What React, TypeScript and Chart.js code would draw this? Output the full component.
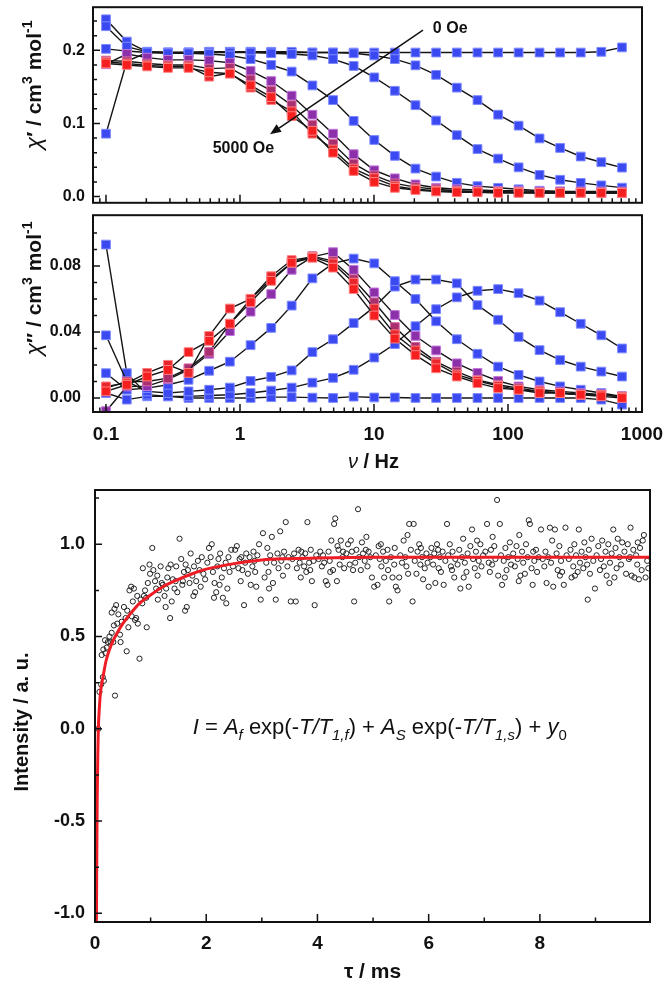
import React, { useEffect, useRef } from 'react';
import { Chart, registerables } from 'chart.js';

Chart.register(...registerables);

const FONT = '"Liberation Sans", Arial, sans-serif';
const INK = '#111111';

// ---------------- AC susceptibility data ----------------
const freqHz = [0.1, 0.143, 0.203, 0.29, 0.413, 0.589, 0.84, 1.2, 1.71, 2.43, 3.47, 4.95, 7.05, 10.05, 14.3, 20.4, 29.1, 41.5, 59.2, 84.4, 120, 172, 245, 349, 497, 709];

// chi' (cm3 mol-1), series 0 = 0 Oe ... series 7 = 5000 Oe
const chiIn0 = [0.202, 0.199, 0.197, 0.197, 0.197, 0.198, 0.198, 0.198, 0.197, 0.197, 0.197, 0.197, 0.197, 0.197, 0.197, 0.197, 0.197, 0.197, 0.197, 0.197, 0.197, 0.197, 0.197, 0.197, 0.198, 0.204];
const chiIn1 = [0.2425, 0.212, 0.198, 0.197, 0.197, 0.198, 0.198, 0.198, 0.198, 0.198, 0.197, 0.197, 0.196, 0.193, 0.188, 0.1795, 0.1665, 0.149, 0.132, 0.112, 0.097, 0.0795, 0.0665, 0.0548, 0.047, 0.0396];
const chiIn2 = [0.233, 0.205, 0.198, 0.197, 0.197, 0.197, 0.197, 0.197, 0.196, 0.195, 0.193, 0.188, 0.1786, 0.163, 0.1447, 0.125, 0.104, 0.084, 0.065, 0.052, 0.04, 0.0296, 0.023, 0.0187, 0.0153, 0.0122];
const chiIn3 = [0.086, 0.185, 0.197, 0.196, 0.196, 0.195, 0.193, 0.188, 0.18, 0.171, 0.152, 0.132, 0.1035, 0.0774, 0.0557, 0.0383, 0.0274, 0.0188, 0.0143, 0.012, 0.01, 0.008, 0.007, 0.006, 0.0055, 0.005];
const chiIn4 = [0.181, 0.195, 0.19, 0.187, 0.187, 0.186, 0.183, 0.172, 0.158, 0.138, 0.112, 0.086, 0.058, 0.036, 0.025, 0.0166, 0.012, 0.01, 0.009, 0.008, 0.008, 0.007, 0.007, 0.007, 0.007, 0.007];
const chiIn5 = [0.186, 0.185, 0.182, 0.18, 0.18, 0.175, 0.176, 0.16, 0.145, 0.125, 0.098, 0.072, 0.045, 0.029, 0.018, 0.013, 0.01, 0.008, 0.007, 0.007, 0.006, 0.006, 0.006, 0.006, 0.006, 0.006];
const chiIn6 = [0.184, 0.182, 0.1795, 0.178, 0.178, 0.164, 0.169, 0.149, 0.132, 0.1166, 0.086, 0.0644, 0.0383, 0.0253, 0.0143, 0.01, 0.008, 0.007, 0.006, 0.006, 0.006, 0.005, 0.005, 0.005, 0.005, 0.005];
const chiIn7 = [0.182, 0.18, 0.178, 0.176, 0.176, 0.17, 0.168, 0.152, 0.136, 0.11, 0.09, 0.06, 0.035, 0.02, 0.012, 0.009, 0.007, 0.006, 0.006, 0.005, 0.005, 0.005, 0.005, 0.005, 0.005, 0.005];

// chi'' (cm3 mol-1)
const chiOut0 = [0.003, -0.001, 0.001, 0.001, 0.0, 0.0, 0.0, 0.0, 0.0005, 0.0005, 0.0002, 0.0, 0.0008, 0.0003, 0.0003, 0.0, 0.0, 0.0, 0.0, 0.0, 0.0, 0.0, 0.0, 0.0, -0.001, -0.004];
const chiOut1 = [0.093, 0.015, 0.002, 0.001, 0.001, 0.0015, 0.002, 0.003, 0.0045, 0.0063, 0.0093, 0.0122, 0.0171, 0.0245, 0.0327, 0.0435, 0.0538, 0.061, 0.065, 0.066, 0.0635, 0.059, 0.052, 0.045, 0.038, 0.03];
const chiOut2 = [0.038, 0.01, 0.004, 0.003, 0.004, 0.005, 0.0063, 0.0103, 0.0128, 0.0167, 0.0278, 0.0356, 0.0454, 0.0552, 0.0675, 0.0718, 0.0718, 0.0695, 0.0563, 0.0474, 0.037, 0.029, 0.023, 0.019, 0.016, 0.013];
const chiOut3 = [0.015, 0.005, 0.006, 0.008, 0.011, 0.0165, 0.022, 0.032, 0.0425, 0.056, 0.0725, 0.0816, 0.0845, 0.0816, 0.0708, 0.06, 0.0465, 0.0356, 0.0268, 0.019, 0.014, 0.01, 0.007, 0.005, 0.003, 0.001];
const chiOut4 = [-0.008, 0.007, 0.0072, 0.0113, 0.017, 0.0268, 0.0405, 0.0523, 0.063, 0.0777, 0.0855, 0.0884, 0.0777, 0.064, 0.0503, 0.0376, 0.0288, 0.021, 0.0152, 0.0103, 0.007, 0.005, 0.004, 0.003, 0.002, 0.001];
const chiOut5 = [0.006, 0.01, 0.01, 0.012, 0.018, 0.028, 0.045, 0.06, 0.072, 0.082, 0.086, 0.083, 0.072, 0.058, 0.043, 0.031, 0.022, 0.016, 0.011, 0.008, 0.006, 0.004, 0.003, 0.002, 0.002, 0.001];
const chiOut6 = [0.007, 0.009, 0.0152, 0.0201, 0.0152, 0.0376, 0.0542, 0.0601, 0.0738, 0.0836, 0.0855, 0.0816, 0.0699, 0.0542, 0.0386, 0.0288, 0.021, 0.0142, 0.0103, 0.0073, 0.005, 0.004, 0.003, 0.002, 0.002, 0.0005];
const chiOut7 = [0.004, 0.008, 0.013, 0.017, 0.0278, 0.0346, 0.045, 0.058, 0.071, 0.082, 0.085, 0.079, 0.066, 0.05, 0.036, 0.026, 0.018, 0.013, 0.009, 0.006, 0.005, 0.003, 0.003, 0.002, 0.001, 0.0];

const seriesFill = ['#3a4af0', '#3a4af0', '#3a4af0', '#3a4af0', '#8b30a8', '#a8306e', '#e8262c', '#f51f1f'];
const seriesEdge = ['#7f8aff', '#7f8aff', '#7f8aff', '#7f8aff', '#c477dc', '#d86aa4', '#ff7f7f', '#ff8080'];

// tick values
const chiInTicks = [0, 0.1, 0.2];
const chiInMinor = [0.02, 0.04, 0.06, 0.08, 0.12, 0.14, 0.16, 0.18, 0.22, 0.24];
const chiOutTicks = [0, 0.04, 0.08];
const chiOutMinor = [0.01, 0.02, 0.03, 0.05, 0.06, 0.07, 0.09, 0.1];
const freqTicks = [0.1, 1, 10, 100, 1000];
const freqMinorMultipliers = [2, 3, 4, 5, 6, 7, 8, 9];

// field arrow annotation (data coordinates)
const fieldLabelStart = { text: '0 Oe', f: 27.5, chi: 0.2295 };
const fieldLabelEnd = { text: '5000 Oe', f: 1.06, chi: 0.066 };
const arrowFrom = { f: 23.2, chi: 0.2278 };
const arrowTo = { f: 1.675, chi: 0.0853 };

// ---------------- Relaxation decay data ----------------
const decayPoints: [number, number][] = [
  [0.06, 0.0], [0.08, 0.2], [0.11, 0.24], [0.14, 0.28], [0.16, 0.26], [0.36, 0.18], [0.12, 0.4], [0.15, 0.43], [0.19, 0.41], [0.21, 0.44], [0.18, 0.48], [0.23, 0.47], [0.26, 0.5], [0.28, 0.47], [0.3, 0.52], [0.33, 0.47], [0.34, 0.56], [0.3, 0.63], [0.35, 0.65], [0.38, 0.67], [0.42, 0.62], [0.4, 0.57], [0.45, 0.51], [0.46, 0.47], [0.48, 0.58],
  [0.52, 0.66], [0.55, 0.6], [0.57, 0.42], [0.6, 0.55], [0.62, 0.75], [0.65, 0.77], [0.66, 0.61], [0.7, 0.76], [0.72, 0.59], [0.74, 0.6], [0.77, 0.57], [0.8, 0.38], [0.82, 0.7], [0.85, 0.68], [0.88, 0.72], [0.9, 0.75], [0.93, 0.55], [0.95, 0.79], [0.98, 0.89], [0.86, 0.87], [0.99, 0.84], [0.76, 0.72], [0.68, 0.69], [0.92, 0.71], [0.58, 0.64],
  [1.03, 0.98], [1.05, 0.86], [1.08, 0.8], [1.1, 0.76], [1.12, 0.83], [1.15, 0.75], [1.18, 0.88], [1.2, 0.79], [1.22, 0.78], [1.25, 0.72], [1.27, 0.66], [1.3, 0.82], [1.32, 0.87], [1.35, 0.6], [1.38, 0.69], [1.4, 0.81], [1.43, 0.76], [1.45, 0.8], [1.48, 0.74], [1.28, 0.76], [1.13, 0.7], [1.36, 0.89], [1.46, 0.88],
  [1.52, 1.03], [1.55, 0.92], [1.57, 0.78], [1.6, 0.85], [1.62, 0.64], [1.65, 0.66], [1.67, 0.86], [1.7, 0.79], [1.72, 0.95], [1.75, 0.83], [1.78, 0.88], [1.8, 0.74], [1.82, 0.8], [1.85, 0.91], [1.88, 0.86], [1.9, 0.77], [1.92, 0.93], [1.95, 0.84], [1.98, 0.81], [1.63, 0.89], [1.77, 0.72], [1.58, 0.8],
  [2.02, 0.9], [2.05, 0.98], [2.08, 0.93], [2.1, 1.0], [2.12, 0.85], [2.15, 0.79], [2.18, 0.74], [2.2, 0.88], [2.22, 0.92], [2.25, 0.95], [2.28, 0.82], [2.3, 0.71], [2.32, 0.87], [2.35, 0.9], [2.38, 0.76], [2.4, 0.93], [2.42, 0.85], [2.45, 0.97], [2.48, 0.88], [2.24, 0.78], [2.36, 0.68], [2.14, 0.71],
  [2.52, 0.97], [2.55, 0.99], [2.58, 0.87], [2.6, 0.92], [2.62, 0.8], [2.65, 0.86], [2.68, 0.67], [2.7, 0.9], [2.72, 0.95], [2.75, 0.84], [2.78, 0.93], [2.8, 0.78], [2.83, 0.88], [2.85, 0.96], [2.88, 0.85], [2.9, 0.77], [2.92, 0.94], [2.95, 1.0], [2.98, 0.7], [2.63, 0.93], [2.87, 0.91],
  [3.02, 1.06], [3.05, 0.82], [3.08, 0.9], [3.1, 0.98], [3.12, 0.85], [3.15, 0.94], [3.18, 1.04], [3.2, 0.79], [3.22, 0.9], [3.25, 0.7], [3.28, 0.95], [3.3, 0.87], [3.33, 1.07], [3.35, 0.91], [3.38, 0.83], [3.4, 0.96], [3.43, 1.12], [3.46, 0.88], [3.48, 0.93], [3.13, 0.76], [3.37, 0.93],
  [3.52, 0.69], [3.55, 0.92], [3.58, 0.95], [3.61, 0.69], [3.63, 0.87], [3.66, 0.97], [3.68, 0.9], [3.7, 0.82], [3.73, 0.93], [3.76, 0.88], [3.78, 0.95], [3.8, 0.85], [3.82, 1.12], [3.85, 0.9], [3.88, 0.97], [3.9, 0.8], [3.93, 0.91], [3.95, 0.67], [3.98, 0.94], [3.71, 0.96], [3.87, 0.86],
  [4.02, 0.92], [4.05, 0.96], [4.08, 0.88], [4.1, 0.94], [4.12, 0.9], [4.15, 0.8], [4.18, 0.78], [4.2, 0.96], [4.22, 0.91], [4.25, 1.02], [4.28, 0.86], [4.3, 1.11], [4.32, 1.14], [4.35, 0.8], [4.38, 0.97], [4.4, 0.89], [4.42, 1.02], [4.45, 0.93], [4.48, 0.87], [4.23, 0.85], [4.36, 0.99], [4.46, 0.96],
  [4.52, 0.95], [4.55, 1.0], [4.58, 0.89], [4.6, 1.02], [4.62, 0.96], [4.66, 0.69], [4.68, 0.9], [4.7, 0.97], [4.73, 1.19], [4.75, 0.93], [4.78, 0.86], [4.8, 1.01], [4.82, 0.95], [4.85, 0.91], [4.88, 1.04], [4.9, 0.88], [4.92, 0.96], [4.95, 0.93], [4.98, 0.82], [4.64, 0.86], [4.87, 0.97],
  [5.02, 0.77], [5.05, 0.94], [5.08, 0.78], [5.1, 0.99], [5.12, 0.92], [5.15, 0.88], [5.18, 0.96], [5.2, 0.82], [5.23, 0.91], [5.26, 0.97], [5.29, 0.69], [5.32, 0.93], [5.35, 0.82], [5.38, 0.89], [5.41, 0.77], [5.44, 0.75], [5.47, 0.82], [5.49, 0.94], [5.14, 1.0], [5.27, 0.86], [5.39, 0.98],
  [5.52, 0.9], [5.55, 1.02], [5.58, 0.93], [5.6, 0.88], [5.62, 1.05], [5.65, 1.11], [5.68, 0.97], [5.71, 0.69], [5.73, 1.11], [5.75, 0.91], [5.78, 0.84], [5.8, 0.96], [5.83, 1.0], [5.85, 0.89], [5.88, 0.93], [5.9, 0.81], [5.93, 0.87], [5.96, 0.95], [5.98, 0.9], [5.63, 0.84], [5.86, 0.98],
  [6.0, 0.77], [6.03, 0.93], [6.05, 0.98], [6.08, 0.89], [6.1, 0.95], [6.12, 0.79], [6.15, 1.0], [6.18, 0.87], [6.2, 0.93], [6.22, 0.85], [6.25, 0.96], [6.27, 0.78], [6.3, 0.91], [6.33, 1.11], [6.35, 0.94], [6.38, 1.0], [6.4, 0.88], [6.43, 0.96], [6.46, 0.82], [6.48, 0.92], [6.17, 0.97], [6.42, 0.86],
  [6.52, 0.89], [6.55, 0.97], [6.57, 0.76], [6.6, 0.93], [6.62, 1.03], [6.65, 0.9], [6.68, 0.85], [6.7, 0.95], [6.72, 0.77], [6.75, 0.99], [6.78, 1.08], [6.8, 0.92], [6.83, 0.87], [6.85, 0.96], [6.88, 0.83], [6.9, 0.91], [6.93, 1.0], [6.95, 0.88], [6.98, 0.94], [6.63, 0.82], [6.87, 1.02],
  [7.02, 0.96], [7.05, 1.11], [7.08, 0.9], [7.1, 0.85], [7.12, 0.97], [7.14, 0.89], [7.18, 0.99], [7.2, 0.92], [7.23, 1.24], [7.25, 0.83], [7.28, 1.11], [7.3, 0.94], [7.32, 0.78], [7.35, 0.91], [7.38, 0.98], [7.4, 0.86], [7.43, 0.93], [7.46, 1.01], [7.48, 0.89], [7.15, 1.04], [7.37, 0.82],
  [7.52, 0.95], [7.55, 0.88], [7.58, 0.99], [7.6, 0.92], [7.62, 0.8], [7.65, 0.83], [7.68, 0.96], [7.7, 0.9], [7.73, 0.84], [7.75, 1.0], [7.78, 0.93], [7.8, 1.13], [7.82, 1.11], [7.85, 0.87], [7.88, 0.96], [7.9, 0.91], [7.93, 0.97], [7.95, 0.85], [7.98, 0.93], [7.63, 1.05], [7.87, 0.78],
  [8.02, 1.08], [8.05, 0.92], [8.08, 0.88], [8.1, 0.96], [8.12, 0.79], [8.15, 0.93], [8.18, 1.09], [8.2, 0.9], [8.24, 0.77], [8.27, 1.08], [8.3, 0.95], [8.32, 0.86], [8.35, 0.99], [8.38, 0.91], [8.4, 0.85], [8.43, 0.78], [8.46, 1.09], [8.48, 0.94], [8.22, 1.02], [8.36, 0.83],
  [8.52, 0.92], [8.55, 0.97], [8.57, 0.82], [8.6, 0.88], [8.62, 1.0], [8.65, 0.94], [8.68, 0.85], [8.7, 1.08], [8.72, 0.9], [8.75, 0.96], [8.78, 0.87], [8.8, 1.01], [8.82, 0.93], [8.85, 0.89], [8.86, 0.7], [8.88, 0.97], [8.9, 0.84], [8.93, 1.03], [8.96, 0.91], [8.99, 0.76], [8.63, 0.83],
  [9.02, 0.94], [9.05, 0.99], [9.08, 0.86], [9.1, 0.92], [9.12, 1.02], [9.15, 0.88], [9.18, 0.96], [9.2, 0.83], [9.23, 1.0], [9.26, 0.9], [9.29, 0.95], [9.32, 1.08], [9.34, 0.82], [9.36, 0.98], [9.38, 0.87], [9.4, 1.03], [9.43, 0.93], [9.46, 0.89], [9.48, 1.01], [9.25, 0.79],
  [9.52, 0.96], [9.55, 0.84], [9.58, 1.0], [9.6, 0.92], [9.63, 1.09], [9.65, 0.83], [9.68, 0.97], [9.7, 0.82], [9.73, 0.94], [9.75, 0.89], [9.78, 0.81], [9.8, 0.98], [9.83, 0.86], [9.85, 1.02], [9.87, 1.05], [9.9, 0.82], [9.93, 0.91], [9.95, 0.87], [9.62, 0.93], [9.76, 1.01],
];

// fitted curve
const fitTauMs = [0.025, 0.03, 0.035, 0.04, 0.05, 0.06, 0.08, 0.1, 0.15, 0.2, 0.3, 0.4, 0.5, 0.6, 0.8, 1.0, 1.25, 1.5, 1.75, 2.0, 2.5, 3.0, 3.5, 4.0, 5.0, 6.0, 8.0, 9.98];
const fitIntensity = [-1.06, -0.8, -0.55, -0.37, -0.15, 0.0, 0.12, 0.2, 0.29, 0.37, 0.46, 0.52, 0.57, 0.61, 0.68, 0.725, 0.775, 0.81, 0.84, 0.865, 0.895, 0.915, 0.922, 0.926, 0.93, 0.93, 0.93, 0.93];

const intensityTicks = [-1, -0.5, 0, 0.5, 1];
const intensityMinor = [-0.75, -0.25, 0.25, 0.75, 1.25];
const tauTicks = [0, 2, 4, 6, 8];
const tauMinor = [1, 3, 5, 7, 9];
const formulaAnchor = { tau: 5.12, intensity: -0.03 };

// ---------------- text helpers ----------------
type Seg = { t: string; it?: boolean; b?: boolean; s: number; dy?: number };

function fontOf(g: Seg) {
  return `${g.it ? 'italic ' : ''}${g.b ? 'bold ' : ''}${g.s}px ${FONT}`;
}

function drawRich(ctx: CanvasRenderingContext2D, segs: Seg[], x: number, y: number, rotated: boolean) {
  ctx.save();
  ctx.translate(x, y);
  if (rotated) ctx.rotate(-Math.PI / 2);
  let w = 0;
  for (const g of segs) { ctx.font = fontOf(g); w += ctx.measureText(g.t).width; }
  let cx = -w / 2;
  ctx.fillStyle = INK;
  ctx.textAlign = 'left';
  ctx.textBaseline = 'alphabetic';
  for (const g of segs) {
    ctx.font = fontOf(g);
    ctx.fillText(g.t, cx, g.dy || 0);
    cx += ctx.measureText(g.t).width;
  }
  ctx.restore();
}

const chiInTitle: Seg[] = [
  { t: 'χ', it: true, s: 23 }, { t: '′ / cm', b: true, s: 21 }, { t: '3', b: true, s: 14, dy: -9 },
  { t: ' mol', b: true, s: 21 }, { t: '-1', b: true, s: 14, dy: -9 },
];
const chiOutTitle: Seg[] = [
  { t: 'χ', it: true, s: 23 }, { t: '″ / cm', b: true, s: 21 }, { t: '3', b: true, s: 14, dy: -9 },
  { t: ' mol', b: true, s: 21 }, { t: '-1', b: true, s: 14, dy: -9 },
];
const freqTitle: Seg[] = [{ t: 'ν', it: true, s: 20 }, { t: ' / Hz', b: true, s: 20 }];
const tauTitle: Seg[] = [{ t: 'τ / ms', b: true, s: 21 }];
const intensityTitle: Seg[] = [{ t: 'Intensity / a. u.', b: true, s: 20 }];
const formulaSegs: Seg[] = [
  { t: 'I', it: true, s: 22 }, { t: ' = ', s: 22 }, { t: 'A', it: true, s: 22 }, { t: 'f', it: true, s: 15, dy: 6 },
  { t: ' exp(-', s: 22 }, { t: 'T/T', it: true, s: 22 }, { t: '1,f', it: true, s: 15, dy: 6 },
  { t: ') + ', s: 22 }, { t: 'A', it: true, s: 22 }, { t: 'S', it: true, s: 15, dy: 6 },
  { t: ' exp(-', s: 22 }, { t: 'T/T', it: true, s: 22 }, { t: '1,s', it: true, s: 15, dy: 6 },
  { t: ') + ', s: 22 }, { t: 'y', it: true, s: 22 }, { t: '0', s: 15, dy: 6 },
];

// ---------------- chart helpers ----------------
function logMinorTicks() {
  const out: number[] = [];
  for (let d = -2; d <= 3; d++) {
    for (const m of freqMinorMultipliers) out.push(m * Math.pow(10, d));
  }
  return out;
}

function framePlugin(cfg: any) {
  return {
    id: 'frameTicks',
    afterDatasetsDraw(chart: any) {
      const { ctx, chartArea: a, scales } = chart;
      const xs = scales.x, ys = scales.y;
      ctx.save();
      ctx.strokeStyle = INK;
      ctx.lineWidth = 1.5;
      ctx.beginPath();
      const yTick = (v: number, len: number) => {
        if (v < ys.min || v > ys.max) return;
        const p = ys.getPixelForValue(v);
        ctx.moveTo(a.left, p); ctx.lineTo(a.left + len, p);
      };
      const xTick = (v: number, len: number) => {
        if (v < xs.min || v > xs.max) return;
        const p = xs.getPixelForValue(v);
        ctx.moveTo(p, a.bottom); ctx.lineTo(p, a.bottom - len);
      };
      cfg.yMajor.forEach((v: number) => yTick(v, 7));
      cfg.yMinor.forEach((v: number) => yTick(v, 4));
      cfg.xMajor.forEach((v: number) => xTick(v, 8));
      cfg.xMinor.forEach((v: number) => xTick(v, 4.5));
      ctx.stroke();
      ctx.lineWidth = 2;
      ctx.strokeRect(a.left, a.top, a.right - a.left, a.bottom - a.top);
      ctx.restore();
      if (cfg.extra) cfg.extra(chart);
    },
  };
}

function baseOptions() {
  return {
    animation: false,
    responsive: false,
    maintainAspectRatio: false,
    events: [],
    plugins: { legend: { display: false }, tooltip: { enabled: false }, title: { display: false } },
  };
}

function yAxis(min: number, max: number, ticks: number[], digits: number, pad: number, size: number, width: number) {
  return {
    type: 'linear',
    min,
    max,
    grid: { display: false, drawTicks: false },
    border: { display: false },
    ticks: {
      padding: pad,
      color: INK,
      font: { family: FONT, size, weight: 'bold' },
      callback: (v: any) => Number(v).toFixed(digits),
    },
    afterBuildTicks: (s: any) => { s.ticks = ticks.map((v) => ({ value: v })); },
    afterFit: (s: any) => { s.width = width; s.paddingTop = 0; s.paddingBottom = 0; },
  };
}

function acDatasets(which: 'in' | 'out') {
  const re = [chiIn0, chiIn1, chiIn2, chiIn3, chiIn4, chiIn5, chiIn6, chiIn7];
  const im = [chiOut0, chiOut1, chiOut2, chiOut3, chiOut4, chiOut5, chiOut6, chiOut7];
  const src = which === 'in' ? re : im;
  const order = [7, 6, 5, 4, 3, 2, 1, 0];
  return order.map((k) => ({
    data: src[k].map((v, i) => ({ x: freqHz[i], y: v })),
    borderColor: '#151515',
    borderWidth: 1.4,
    pointStyle: 'rect',
    pointRadius: 6.2,
    pointBackgroundColor: seriesFill[k],
    pointBorderColor: seriesEdge[k],
    pointBorderWidth: 1,
    tension: 0,
    fill: false,
  }));
}

function drawRealExtras(chart: any) {
  const { ctx, scales: { x, y } } = chart;
  ctx.save();
  ctx.fillStyle = INK;
  ctx.font = `bold 16px ${FONT}`;
  ctx.textBaseline = 'middle';
  ctx.textAlign = 'left';
  ctx.fillText(fieldLabelStart.text, x.getPixelForValue(fieldLabelStart.f), y.getPixelForValue(fieldLabelStart.chi));
  ctx.textAlign = 'center';
  ctx.fillText(fieldLabelEnd.text, x.getPixelForValue(fieldLabelEnd.f), y.getPixelForValue(fieldLabelEnd.chi));
  const x1 = x.getPixelForValue(arrowFrom.f), y1 = y.getPixelForValue(arrowFrom.chi);
  const x2 = x.getPixelForValue(arrowTo.f), y2 = y.getPixelForValue(arrowTo.chi);
  const ang = Math.atan2(y2 - y1, x2 - x1);
  const hl = 11, hw = 4.5;
  const bx = x2 - hl * Math.cos(ang), by = y2 - hl * Math.sin(ang);
  ctx.strokeStyle = INK;
  ctx.lineWidth = 1.5;
  ctx.beginPath();
  ctx.moveTo(x1, y1);
  ctx.lineTo(bx, by);
  ctx.stroke();
  ctx.beginPath();
  ctx.moveTo(x2, y2);
  ctx.lineTo(bx + hw * Math.sin(ang), by - hw * Math.cos(ang));
  ctx.lineTo(bx - hw * Math.sin(ang), by + hw * Math.cos(ang));
  ctx.closePath();
  ctx.fill();
  ctx.restore();
  drawRich(ctx, chiInTitle, 41, 85, true);
}

function drawImagExtras(chart: any) {
  const { ctx, chartArea: a } = chart;
  drawRich(ctx, chiOutTitle, 41, 80.5, true);
  drawRich(ctx, freqTitle, (a.left + a.right) / 2 + 6, 260, false);
}

function drawDecayExtras(chart: any) {
  const { ctx, chartArea: a, scales: { x, y } } = chart;
  drawRich(ctx, intensityTitle, 27.5, 242, true);
  drawRich(ctx, tauTitle, (a.left + a.right) / 2, 498, false);
  drawRich(ctx, formulaSegs, x.getPixelForValue(formulaAnchor.tau), y.getPixelForValue(formulaAnchor.intensity), false);
}

function makeRealChart() {
  return {
    type: 'line',
    data: { datasets: acDatasets('in') },
    options: {
      ...baseOptions(),
      layout: { padding: { left: 0, right: 21, top: 4, bottom: 1.5 } },
      scales: {
        x: { type: 'logarithmic', min: 0.08, max: 1000, display: false },
        y: yAxis(-0.0085, 0.259, chiInTicks, 1, 8, 16, 93),
      },
    },
    plugins: [framePlugin({ yMajor: chiInTicks, yMinor: chiInMinor, xMajor: freqTicks, xMinor: logMinorTicks(), extra: drawRealExtras })],
  };
}

function makeImagChart() {
  return {
    type: 'line',
    data: { datasets: acDatasets('out') },
    options: {
      ...baseOptions(),
      layout: { padding: { left: 0, right: 21, top: 0.5, bottom: 0 } },
      scales: {
        x: {
          type: 'logarithmic',
          min: 0.08,
          max: 1000,
          grid: { display: false, drawTicks: false },
          border: { display: false },
          ticks: {
            padding: 11,
            autoSkip: false,
            maxRotation: 0,
            color: INK,
            font: { family: FONT, size: 19, weight: 'bold' },
            callback: (v: any) => String(v),
          },
          afterBuildTicks: (s: any) => { s.ticks = freqTicks.map((v) => ({ value: v })); },
          afterFit: (s: any) => { s.height = 68; s.paddingLeft = 0; s.paddingRight = 0; },
        },
        y: yAxis(-0.0085, 0.1108, chiOutTicks, 2, 12, 16, 93),
      },
    },
    plugins: [framePlugin({ yMajor: chiOutTicks, yMinor: chiOutMinor, xMajor: freqTicks, xMinor: logMinorTicks(), extra: drawImagExtras })],
  };
}

function makeDecayChart() {
  return {
    type: 'scatter',
    data: {
      datasets: [
        {
          data: fitTauMs.map((t, i) => ({ x: t, y: fitIntensity[i] })),
          showLine: true,
          borderColor: '#ee1d25',
          borderWidth: 3,
          pointRadius: 0,
          cubicInterpolationMode: 'monotone',
          order: 0,
        },
        {
          data: decayPoints.map(([t, v]) => ({ x: t, y: v })),
          showLine: false,
          pointStyle: 'circle',
          pointRadius: 2.6,
          pointBorderWidth: 1,
          pointBorderColor: '#222222',
          pointBackgroundColor: 'rgba(0,0,0,0)',
          order: 1,
        },
      ],
    },
    options: {
      ...baseOptions(),
      layout: { padding: { left: 0, right: 13, top: 10, bottom: 0 } },
      scales: {
        x: {
          type: 'linear',
          min: 0,
          max: 9.98,
          grid: { display: false, drawTicks: false },
          border: { display: false },
          ticks: {
            padding: 10,
            autoSkip: false,
            maxRotation: 0,
            color: INK,
            font: { family: FONT, size: 19, weight: 'bold' },
            callback: (v: any) => String(v),
          },
          afterBuildTicks: (s: any) => { s.ticks = tauTicks.map((v) => ({ value: v })); },
          afterFit: (s: any) => { s.height = 63; s.paddingLeft = 0; s.paddingRight = 0; },
        },
        y: yAxis(-1.047, 1.294, intensityTicks, 1, 10, 18, 95),
      },
    },
    plugins: [framePlugin({ yMajor: intensityTicks, yMinor: intensityMinor, xMajor: tauTicks, xMinor: tauMinor, extra: drawDecayExtras })],
  };
}

function ChartBox({ top, height, make }: { top: number; height: number; make: () => any }) {
  const ref = useRef<HTMLCanvasElement>(null);
  useEffect(() => {
    const chart = new Chart(ref.current as HTMLCanvasElement, make());
    return () => chart.destroy();
  }, []);
  return (
    <canvas
      ref={ref}
      width={663}
      height={height}
      style={{ position: 'absolute', left: 0, top, width: 663, height, display: 'block' }}
    />
  );
}

export default function App() {
  return (
    <div style={{ position: 'absolute', left: 0, top: 0, width: 663, height: 985, background: '#ffffff', overflow: 'hidden' }}>
      <ChartBox top={0} height={210} make={makeRealChart} />
      <ChartBox top={208} height={272} make={makeImagChart} />
      <ChartBox top={480} height={505} make={makeDecayChart} />
    </div>
  );
}
